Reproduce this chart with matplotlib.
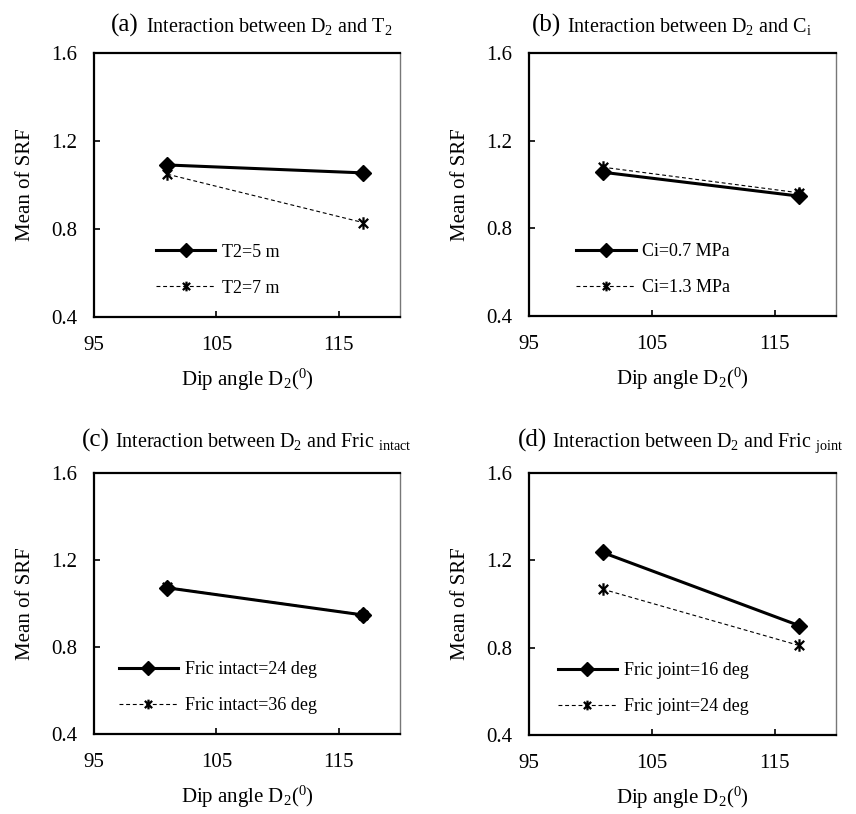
import matplotlib
matplotlib.use("Agg")
import matplotlib.pyplot as plt
from matplotlib.path import Path
import numpy as np

plt.rcParams['font.family'] = ['Liberation Serif', 'DejaVu Serif']
plt.rcParams['mathtext.fontset'] = 'custom'
plt.rcParams['mathtext.rm'] = 'Liberation Serif'
plt.rcParams['mathtext.it'] = 'Liberation Serif:italic'

# ---- data ----
dip_angle = [101, 117]

a_labels = ["T2=5 m", "T2=7 m"]
a_s1 = [1.091, 1.055]
a_s2 = [1.049, 0.829]

b_labels = ["Ci=0.7 MPa", "Ci=1.3 MPa"]
b_s1 = [1.056, 0.947]
b_s2 = [1.079, 0.962]

c_labels = ["Fric intact=24 deg", "Fric intact=36 deg"]
c_s1 = [1.072, 0.947]
c_s2 = [1.074, 0.949]

d_labels = ["Fric joint=16 deg", "Fric joint=24 deg"]
d_s1 = [1.236, 0.901]
d_s2 = [1.068, 0.810]

x_ticks = [95, 105, 115]
y_ticks = [0.4, 0.8, 1.2, 1.6]

titles_prefix = ["(a)", "(b)", "(c)", "(d)"]
titles_rest = [r"Interaction between D$_\mathrm{2}$ and T$_\mathrm{2}$",
               r"Interaction between D$_\mathrm{2}$ and C$_\mathrm{i}$",
               r"Interaction between D$_\mathrm{2}$ and Fric $_\mathrm{intact}$",
               r"Interaction between D$_\mathrm{2}$ and Fric $_\mathrm{joint}$"]

# ---- layout (pixels) ----
W, H = 856, 814
fig = plt.figure(figsize=(W / 100, H / 100), dpi=100)

boxes = [(94, 400, 53, 317), (529, 836, 53, 316), (94, 400, 473, 734), (529, 836, 473, 735)]
title_pos = [(139, 146, 32), (561, 567, 32), (110, 115, 447), (547, 552, 447)]

# asterisk marker
star = Path([(0, -1), (0, 1), (-0.75, -0.75), (0.75, 0.75), (-0.75, 0.75), (0.75, -0.75)],
            [Path.MOVETO, Path.LINETO, Path.MOVETO, Path.LINETO, Path.MOVETO, Path.LINETO])

data = [(a_labels, a_s1, a_s2), (b_labels, b_s1, b_s2), (c_labels, c_s1, c_s2), (d_labels, d_s1, d_s2)]

for i, ((l, r, t, b), (labels, s1, s2)) in enumerate(zip(boxes, data)):
    ax = fig.add_axes([l / W, 1 - b / H, (r - l) / W, (b - t) / H])
    ax.plot(dip_angle, s2, color='black', lw=0.8, ls=(0, (3.5, 2.5)), marker=star,
            markersize=9, markeredgewidth=1.6, label=labels[1], zorder=3)
    ax.plot(dip_angle, s1, color='black', lw=2.2, marker='D',
            markersize=8.5, label=labels[0], zorder=4)
    ax.set_xlim(95, 120)
    ax.set_ylim(0.4, 1.6)
    ax.set_xticks(x_ticks)
    ax.set_yticks(y_ticks)
    ax.set_yticklabels([f"{v:.1f}" for v in y_ticks])
    ax.tick_params(direction='in', length=4, width=1.2, labelsize=15, colors='black')
    ax.tick_params(axis='y', pad=12)
    ax.tick_params(axis='x', pad=14)
    for side in ['left', 'bottom', 'top']:
        ax.spines[side].set_linewidth(1.6)
    ax.spines['right'].set_linewidth(1.0)
    ax.spines['right'].set_color('#777777')
    ax.set_ylabel("Mean of SRF", fontsize=15, labelpad=12)
    ax.set_xlabel(r"Dip angle D$_\mathrm{2}$($^\mathrm{0}$)", fontsize=15, labelpad=8)
    h, lab = ax.get_legend_handles_labels()
    leg = ax.legend(h[::-1], lab[::-1], loc='center', bbox_to_anchor=(0.404, 0.177),
                    frameon=False, fontsize=13, handlelength=3.3, handletextpad=0.35,
                    labelspacing=1.05, borderaxespad=0, borderpad=0)
    for hh in leg.legend_handles:
        hh.set_markersize(7)
    px, rx, by = title_pos[i]
    fig.text(px / W, 1 - by / H, titles_prefix[i], fontsize=18, ha='right', va='baseline')
    fig.text(rx / W, 1 - by / H, titles_rest[i], fontsize=14.5, ha='left', va='baseline')

fig.savefig("out.png", dpi=100)
